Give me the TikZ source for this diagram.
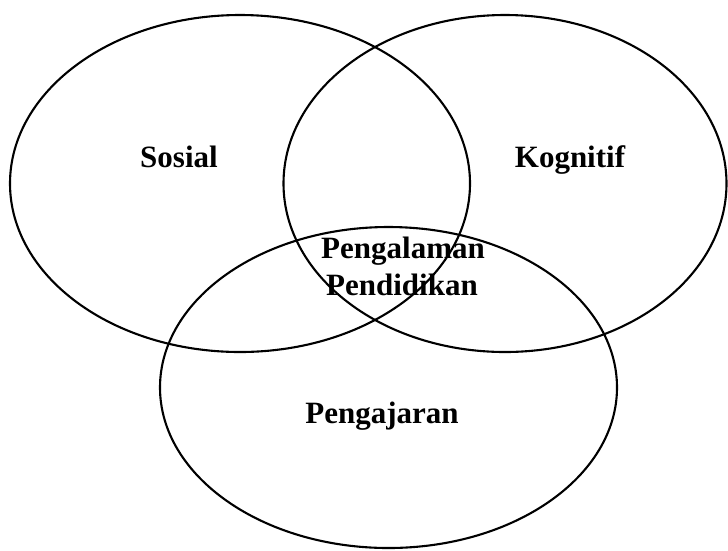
\documentclass[tikz,border=0pt]{standalone}
\usepackage{fontspec}
\setmainfont{Liberation Serif}
\begin{document}
\begin{tikzpicture}[x=1pt,y=-1pt,
  circ/.style={draw=black,line width=2.1pt},
  lbl/.style={font=\fontsize{31}{37}\selectfont\bfseries,anchor=base,inner sep=0pt}]
\useasboundingbox (0,0) rectangle (728,550);
\draw[circ] (240,183.5) ellipse [x radius=230pt, y radius=168.5pt];
\draw[circ] (505,183.5) ellipse [x radius=221.5pt, y radius=168.5pt];
\draw[circ] (388.5,387.5) ellipse [x radius=228.5pt, y radius=160.5pt];
\node[lbl] (sosial) at (179,167) {Sosial};
\node[lbl] (kognitif) at (570,167) {Kognitif};
\node[lbl] (pengalaman) at (403,258) {Pengalaman};
\node[lbl] (pendidikan) at (402,295) {Pendidikan};
\node[lbl] (pengajaran) at (382,423) {Pengajaran};
\end{tikzpicture}
\end{document}
